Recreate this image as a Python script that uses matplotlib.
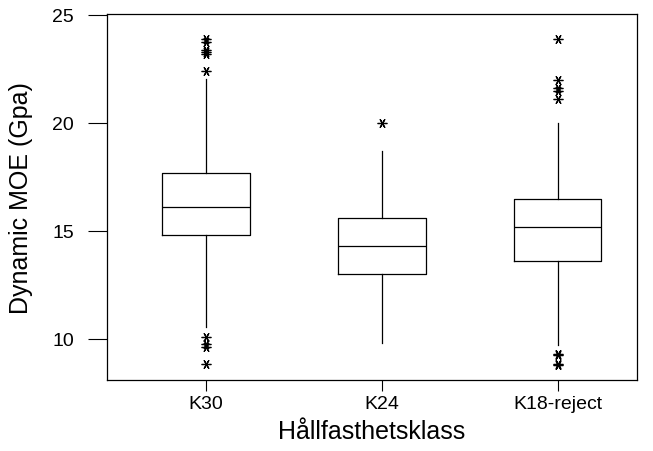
import matplotlib
matplotlib.use("Agg")
import matplotlib.pyplot as plt

plt.rcParams['font.family'] = ['Liberation Sans', 'DejaVu Sans']

# box statistics (Gpa)
classes = ['K30', 'K24', 'K18-reject']
whislo = [10.55, 9.8, 9.7]
q1 = [14.8, 13.0, 13.6]
med = [16.1, 14.3, 15.2]
q3 = [17.7, 15.6, 16.5]
whishi = [22.05, 18.7, 20.0]
outliers = [
    [23.9, 23.75, 23.4, 23.3, 23.2, 22.4, 10.1, 9.75, 9.65, 8.85],
    [20.0],
    [23.9, 22.0, 21.6, 21.5, 21.1, 9.3, 9.25, 8.85, 8.8],
]

stats = []
for i, name in enumerate(classes):
    stats.append({'label': name, 'whislo': whislo[i], 'q1': q1[i],
                  'med': med[i], 'q3': q3[i], 'whishi': whishi[i],
                  'fliers': outliers[i]})

fig, ax = plt.subplots(figsize=(6.53, 4.52), dpi=100)
fig.subplots_adjust(left=0.164, right=0.975, top=0.967, bottom=0.157)

line = dict(color='black', linewidth=0.9)
ax.bxp(stats, positions=[1, 2, 3], widths=0.5,
       boxprops=line, whiskerprops=line, medianprops=line,
       capprops=dict(linewidth=0), showcaps=False,
       flierprops=dict(marker=(6, 2, 30), markersize=7,
                       markeredgecolor='black', markeredgewidth=0.9,
                       linestyle='none'))

ax.set_xlim(0.44, 3.45)
ax.set_ylim(8.1, 25.05)
ax.set_yticks([10, 15, 20, 25])
ax.tick_params(axis='y', direction='out', length=13.7, width=0.8, pad=10,
               labelsize=14, colors='black')
ax.tick_params(axis='x', direction='out', length=8, width=0.8, pad=3,
               labelsize=14, colors='black')
for s in ax.spines.values():
    s.set_linewidth(0.9)

ax.set_xlabel('Hållfasthetsklass', fontsize=18, labelpad=5)
ax.set_ylabel('Dynamic MOE (Gpa)', fontsize=18, labelpad=14)

fig.savefig('out.png', dpi=100)
